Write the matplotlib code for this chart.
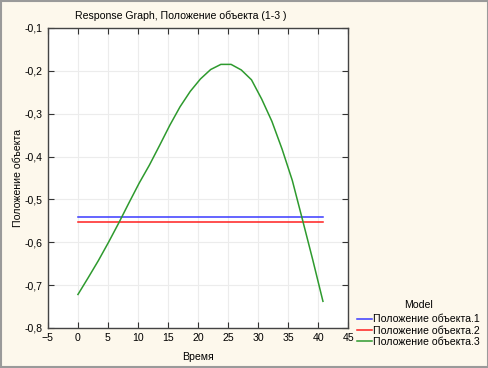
import numpy as np
import matplotlib
matplotlib.use("Agg")
import matplotlib.pyplot as plt
from matplotlib.ticker import FuncFormatter, MultipleLocator
from matplotlib.patches import Rectangle

plt.rcParams['font.family'] = ['Liberation Sans', 'DejaVu Sans']

# время (шаг 1.7)
time = [i * 1.7 for i in range(25)]
obj1 = [-0.542] * 25
obj2 = [-0.553] * 25
obj3 = [-0.722, -0.683, -0.643, -0.600, -0.555, -0.508, -0.462, -0.420,
        -0.374, -0.327, -0.284, -0.248, -0.219, -0.197, -0.185, -0.185,
        -0.198, -0.221, -0.266, -0.318, -0.383, -0.456, -0.548, -0.641,
        -0.738]
names = ['Положение объекта.1', 'Положение объекта.2', 'Положение объекта.3']
colors = ['#3a3aff', '#ff1f1f', '#2e9a2e']
fs = 7.6

fig = plt.figure(figsize=(4.89, 3.68), dpi=100, facecolor='#fdf8ec')
fig.patches.append(Rectangle((0.002, 0.003), 0.996, 0.994, transform=fig.transFigure,
                             fill=False, edgecolor='#9a9a9a', linewidth=1.5))
ax = fig.add_axes([0.098, 0.109, 0.614, 0.815])
ax.set_facecolor('white')

for ys, c, n in zip([obj1, obj2, obj3], colors, names):
    ax.plot(time, ys, color=c, linewidth=1.1, label=n)

ax.set_xlim(-5, 45)
ax.set_ylim(-0.8, -0.1)
ax.xaxis.set_major_locator(MultipleLocator(5))
ax.yaxis.set_major_locator(MultipleLocator(0.1))
ax.yaxis.set_major_formatter(FuncFormatter(lambda v, p: ('%.1f' % v).replace('.', ',')))
ax.tick_params(direction='in', top=True, right=True, length=4, labelsize=fs,
               color='#333333', pad=4)
ax.grid(True, color='#ececec', linewidth=0.8)
for s in ax.spines.values():
    s.set_color('#444444')
    s.set_linewidth(1.0)

fig.text(0.37, 0.958, 'Response Graph, Положение объекта (1-3 )', fontsize=fs,
         ha='center', va='center')
ax.set_xlabel('Время', fontsize=fs, labelpad=6)
ax.set_ylabel('Положение объекта', fontsize=fs, labelpad=1)

leg = fig.legend(loc='upper left', bbox_to_anchor=(0.73, 0.184), title='Model',
                 fontsize=fs, title_fontsize=fs, frameon=False, handlelength=1.45,
                 handletextpad=0.1, labelspacing=0.1, borderpad=0, borderaxespad=0)
leg._legend_box.sep = 3

fig.savefig('out.png', dpi=100, facecolor=fig.get_facecolor())
